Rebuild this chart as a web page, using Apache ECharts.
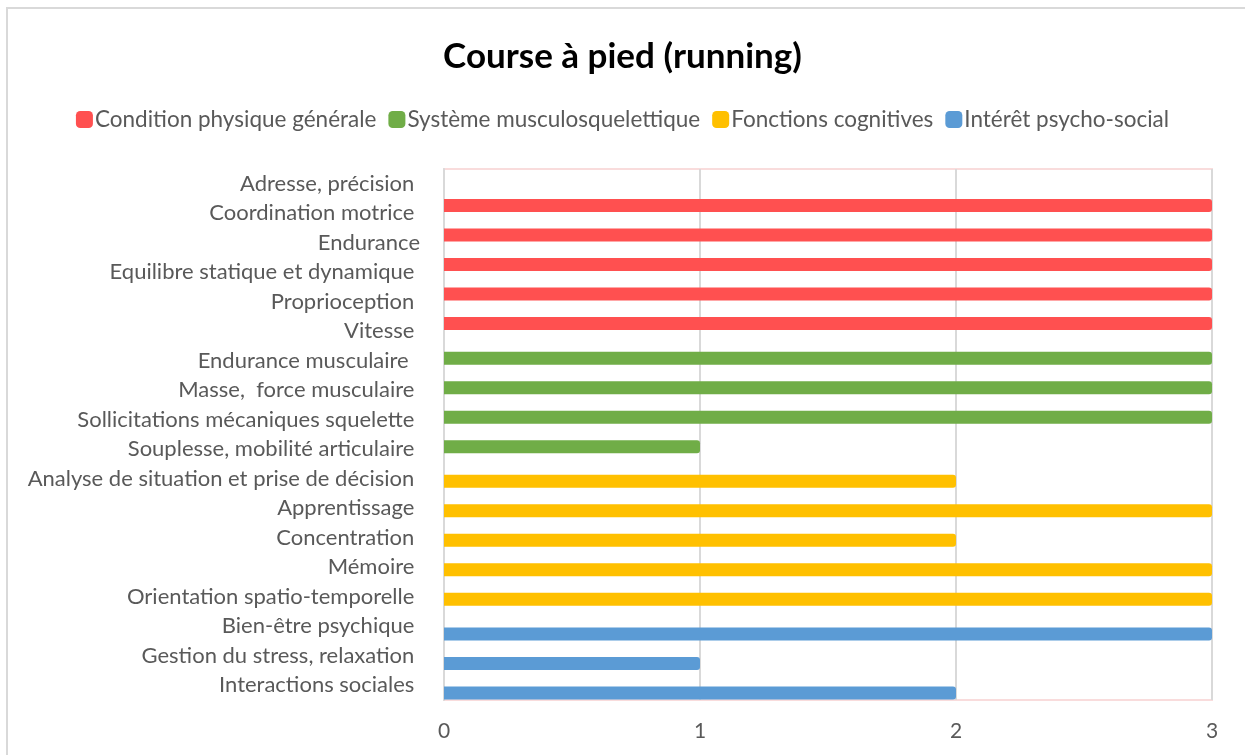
<!DOCTYPE html>
<html>
<head>
<meta charset="utf-8">
<script src="https://cdn.jsdelivr.net/npm/echarts@6/dist/echarts.min.js"></script>
<style>
  html, body { margin: 0; padding: 0; background: #fff; }
  #chart { width: 1245px; height: 755px; }
</style>
</head>
<body>
<div id="chart"></div>
<script>
const categories = [
  'Adresse, précision ',
  'Coordination motrice ',
  'Endurance',
  'Equilibre statique et dynamique ',
  'Proprioception ',
  'Vitesse ',
  'Endurance musculaire  ',
  'Masse,  force musculaire ',
  'Sollicitations mécaniques squelette ',
  'Souplesse, mobilité articulaire ',
  'Analyse de situation et prise de décision ',
  'Apprentissage ',
  'Concentration ',
  'Mémoire ',
  'Orientation spatio-temporelle ',
  'Bien-être psychique ',
  'Gestion du stress, relaxation ',
  'Interactions sociales '
]

const seriesNames = ['Condition physique générale', 'Système musculosquelettique', 'Fonctions cognitives', 'Intérêt psycho-social']

const physique = [0, 3, 3, 3, 3, 3, null, null, null, null, null, null, null, null, null, null, null, null]
const musculo = [null, null, null, null, null, null, 3, 3, 3, 1, null, null, null, null, null, null, null, null]
const cognitif = [null, null, null, null, null, null, null, null, null, null, 2, 3, 2, 3, 3, null, null, null]
const psychoSocial = [null, null, null, null, null, null, null, null, null, null, null, null, null, null, null, 3, 1, 2]

const xTicks = [0, 1, 2, 3]

const COLORS = {
  red: '#ff5050',
  green: '#70ad47',
  yellow: '#ffc000',
  blue: '#5b9bd5',
}

const FONT = 'Lato, "Open Sans", sans-serif'
const TEXT = '#595959'

const chart = echarts.init(document.getElementById('chart'))

function barSeries(name, data, color) {
  return {
    name: name,
    type: 'bar',
    data: data,
    barWidth: 13,
    barGap: '-60%',
    itemStyle: { color: color, borderRadius: [0, 3, 3, 0] },
    emphasis: { disabled: true },
  }
}

chart.setOption({
  animation: false,
  color: [COLORS.red, COLORS.green, COLORS.yellow, COLORS.blue],
  textStyle: { fontFamily: FONT },
  graphic: [{
    type: 'rect',
    shape: { x: 7, y: 8, width: 1260, height: 780 },
    style: { fill: 'none', stroke: '#d9d9d9', lineWidth: 2 },
    silent: true,
  }],
  title: {
    text: 'Course à pied (running)',
    left: 'center',
    top: 34,
    textStyle: { fontFamily: FONT, fontSize: 35, fontWeight: 'bold', color: '#000' },
  },
  legend: {
    data: seriesNames,
    top: 103,
    left: 'center',
    itemWidth: 17,
    itemHeight: 17,
    itemGap: 12,
    icon: 'roundRect',
    textStyle: { fontFamily: FONT, fontSize: 22.5, color: TEXT, padding: [0, 0, 0, -3] },
  },
  grid: {
    left: 444,
    right: 33,
    top: 169,
    bottom: 55,
    show: true,
    borderColor: '#f9dcdc',
    borderWidth: 2,
  },
  xAxis: {
    type: 'value',
    min: xTicks[0],
    max: xTicks[xTicks.length - 1],
    interval: 1,
    axisLine: { show: false },
    axisTick: { show: false },
    axisLabel: { fontFamily: FONT, fontSize: 21, color: TEXT, margin: 21 },
    splitLine: { lineStyle: { color: '#d9d9d9', width: 2 } },
  },
  yAxis: {
    type: 'category',
    inverse: true,
    data: categories,
    axisLine: { show: true, lineStyle: { color: '#d9d9d9', width: 2 } },
    axisTick: { show: false },
    axisLabel: { fontFamily: FONT, fontSize: 22, color: TEXT, margin: 24, interval: 0 },
  },
  series: [
    barSeries(seriesNames[0], physique, COLORS.red),
    barSeries(seriesNames[1], musculo, COLORS.green),
    barSeries(seriesNames[2], cognitif, COLORS.yellow),
    barSeries(seriesNames[3], psychoSocial, COLORS.blue),
  ],
})
</script>
</body>
</html>
